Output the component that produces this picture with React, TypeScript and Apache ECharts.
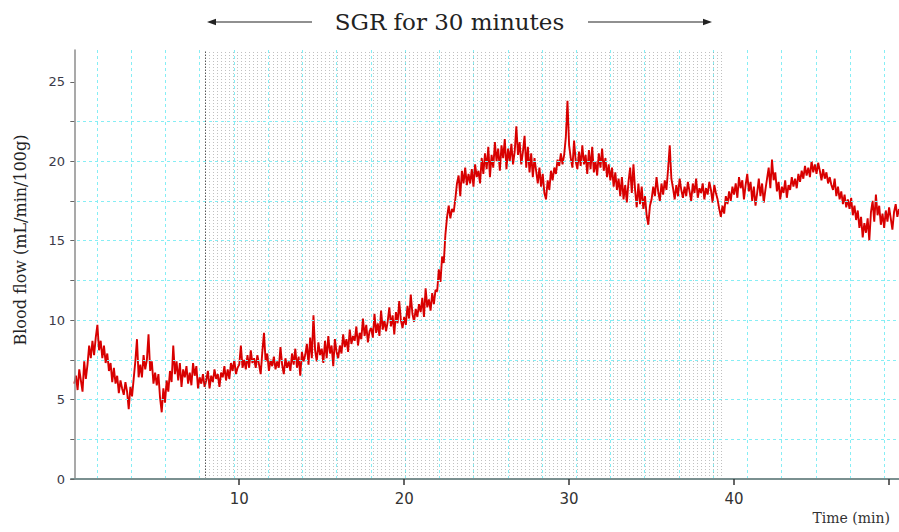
import React, { useEffect, useRef } from "react";
import * as echarts from "echarts";

// Sampling step of the blood-flow trace (minutes)
const TIME_STEP = 0.1;

// Blood flow (mL/min/100g), every 0.1 min, 0..50 min
const flow: number[] = [
  // 0
  6.0, 6.5, 5.6, 6.9, 6.2, 5.5, 7.4, 6.3, 7.2, 8.4,
  // 1
  7.6, 8.7, 7.8, 8.9, 9.7, 8.1, 8.7, 7.6, 8.4, 7.3,
  // 2
  7.9, 6.8, 7.3, 6.1, 7.0, 6.0, 6.5, 5.4, 6.2, 5.7,
  // 3
  5.3, 6.1, 5.5, 4.4, 5.8, 5.2, 6.3, 7.4, 8.8, 6.4,
  // 4
  7.2, 6.4, 7.8, 6.9, 7.5, 9.1, 6.8, 7.4, 6.0, 6.7,
  // 5
  5.9, 6.6, 5.1, 4.2, 5.7, 4.8, 6.2, 5.5, 6.8, 6.1,
  // 6
  8.4, 6.6, 7.4, 6.2, 7.3, 5.8, 6.9, 6.4, 7.1, 6.0,
  // 7
  6.7, 5.9, 7.3, 6.5, 7.1, 5.7, 6.4, 6.0, 6.6, 5.8,
  // 8
  6.2, 6.8, 5.7, 6.5, 6.1, 6.9, 6.3, 6.6, 5.8, 6.7,
  // 9
  6.4, 7.1, 6.2, 6.9, 6.3, 7.3, 6.8, 7.5, 6.6, 7.0,
  // 10
  7.2, 8.4, 7.0, 7.5, 6.9, 7.8, 7.0, 8.1, 7.3, 7.6,
  // 11
  7.0, 7.8, 7.2, 6.6, 8.0, 9.2, 7.4, 7.9, 6.8, 7.5,
  // 12
  7.1, 7.7, 6.9, 7.4, 7.0, 8.3, 7.2, 6.6, 7.6, 7.0,
  // 13
  7.4, 6.8, 7.9, 7.2, 8.2, 7.0, 7.7, 6.5, 8.0, 7.4,
  // 14
  7.8, 8.5, 7.2, 8.9, 7.6, 10.3, 8.1, 7.4, 8.6, 7.8,
  // 15
  8.2, 7.3, 8.7, 7.6, 9.0, 7.9, 8.4, 7.1, 8.8, 8.0,
  // 16
  7.6, 8.4, 7.9, 9.1, 8.3, 8.8, 8.0, 9.4, 8.5, 9.0,
  // 17
  8.7, 9.6, 8.4, 9.2, 8.8, 10.1, 9.0, 9.7, 8.6, 9.3,
  // 18
  9.5, 8.9, 10.4, 9.2, 9.8, 9.0, 10.6, 9.4, 10.0, 9.3,
  // 19
  9.9, 10.8, 9.6, 10.3, 9.1, 10.5, 9.8, 11.2, 10.0, 9.5,
  // 20
  10.2, 9.7, 10.9, 10.1, 11.6, 10.4, 9.9, 10.7, 10.2, 11.0,
  // 21
  10.5, 11.4, 10.2, 12.0, 10.8, 11.3, 10.6, 11.7, 11.0, 11.9,
  // 22
  11.8, 13.2, 12.4, 14.0, 13.6, 15.4, 16.5, 17.2, 16.4, 17.0,
  // 23
  16.8, 17.6, 18.6, 19.1, 17.8, 19.4, 18.6, 19.6, 18.5, 19.2,
  // 24
  18.6, 19.5, 18.4, 19.8, 19.0, 19.4, 18.6, 20.2, 19.2, 20.5,
  // 25
  19.5, 20.9, 19.0, 20.4, 19.6, 21.2, 20.0, 20.8, 19.4, 21.0,
  // 26
  20.2, 21.4, 19.5, 20.8, 20.0, 21.1, 19.8, 20.6, 22.2, 20.4,
  // 27
  21.2, 19.8, 20.6, 21.6, 19.6, 20.9, 19.3, 20.5, 19.0, 20.2,
  // 28
  19.4, 18.6, 19.6, 18.4, 19.2, 18.0, 17.6, 18.8, 18.2, 19.4,
  // 29
  18.8, 19.6, 19.2, 20.1, 19.7, 20.5, 19.8, 20.4, 21.5, 23.8,
  // 30
  21.0, 20.2, 19.6, 21.3, 20.0, 19.5, 20.6, 19.7, 21.0, 19.8,
  // 31
  20.4, 19.2, 20.7, 19.5, 20.9, 19.3, 20.0, 19.1, 20.5, 19.6,
  // 32
  20.8, 19.4, 20.2, 19.0, 19.8, 18.8, 19.6, 18.4, 19.3, 18.2,
  // 33
  18.9, 17.8, 19.0, 17.6, 18.5, 17.4, 18.7, 19.6, 18.0, 19.8,
  // 34
  18.2, 17.1, 18.6, 17.3, 18.4, 17.0, 17.8, 16.6, 16.0, 17.2,
  // 35
  17.6, 18.4, 17.8, 19.0, 18.1, 17.5, 18.6, 17.9, 18.8, 18.2,
  // 36
  19.5, 21.0, 18.9, 18.3, 17.6, 18.5, 17.8, 18.9, 18.2, 17.7,
  // 37
  18.4, 17.8, 18.7, 18.1, 17.5, 18.6, 18.0, 18.9, 17.7, 18.3,
  // 38
  18.0, 18.6, 17.6, 18.3, 17.9, 18.7, 18.2, 17.4, 18.5, 18.0,
  // 39
  17.6, 17.0, 16.5, 17.2, 16.7, 17.8, 17.3, 18.1, 17.5, 18.4,
  // 40
  17.9, 18.6, 17.7, 19.0, 18.3, 18.8, 17.6, 18.5, 19.2, 18.1,
  // 41
  18.7, 17.5, 18.4, 17.2, 18.0, 18.9, 17.8, 18.6, 17.4, 18.2,
  // 42
  18.9, 19.6, 18.3, 20.1, 18.8, 19.3, 18.1, 18.7, 17.6, 18.4,
  // 43
  18.0, 18.8, 17.7, 18.5, 18.2, 19.0, 18.4, 18.9, 18.3, 19.2,
  // 44
  18.7, 19.4, 18.9, 19.7, 19.1, 19.6, 19.0, 20.0, 19.3, 19.8,
  // 45
  19.2, 19.9, 19.4, 18.8, 19.5, 18.9, 19.3, 18.6, 19.0, 18.5,
  // 46
  18.2, 18.9, 17.8, 18.4, 17.6, 18.1, 17.3, 17.9, 17.1, 17.6,
  // 47
  17.0, 17.7, 16.6, 17.2, 16.3, 16.9, 15.8, 16.5, 15.2, 16.1,
  // 48
  15.5, 16.4, 15.0, 16.8, 17.5, 16.2, 17.9, 16.6, 17.2, 16.0,
  // 49
  16.7, 15.8, 16.9, 16.2, 17.1, 16.4, 15.7, 16.8, 17.3, 16.5,
  // 50
  17.0,
];

const X_TICKS = [10, 20, 30, 40, 49.4];
const X_LABELS = [10, 20, 30, 40];
const Y_TICKS = [0, 2.5, 5, 7.5, 10, 12.5, 15, 17.5, 20, 22.5, 25];
const Y_LABELS = [0, 5, 10, 15, 20, 25];

const SGR_START = 7.93;
const SGR_END = 39.3;

const TITLE = "SGR for 30 minutes";
const Y_NAME = "Blood flow (mL/min/100g)";
const X_NAME = "Time (min)";

function makeDotPattern(): HTMLCanvasElement {
  const c = document.createElement("canvas");
  c.width = 4;
  c.height = 3;
  const ctx = c.getContext("2d")!;
  ctx.clearRect(0, 0, 4, 3);
  ctx.fillStyle = "rgba(130,130,130,0.5)";
  ctx.fillRect(1, 1, 1, 1);
  return c;
}

export default function App() {
  const ref = useRef<HTMLDivElement>(null);

  useEffect(() => {
    document.body.style.margin = "0";
    if (!ref.current) return;
    const chart = echarts.init(ref.current, undefined, { renderer: "svg" });

    const seriesData = flow.map((v, i) => [+(i * TIME_STEP).toFixed(1), v]);
    const pattern = makeDotPattern();

    const cyan = "#86eef5";
    const serif = "DejaVu Serif";

    chart.setOption({
      animation: false,
      backgroundColor: "#ffffff",
      title: {
        text: TITLE,
        left: "center",
        top: 5,
        textStyle: {
          fontFamily: serif,
          fontSize: 23,
          fontWeight: "normal",
          color: "#222",
        },
      },
      grid: [
        { left: 71, right: 0, top: 50, bottom: 53 },
        { left: 62.8, right: 0, top: 50, bottom: 53 },
      ],
      xAxis: [
        {
          type: "value",
          gridIndex: 0,
          min: -0.2,
          max: 50,
          axisLine: { show: true, lineStyle: { color: "#7a9090", width: 2 } },
          axisTick: {
            show: true,
            customValues: X_TICKS,
            length: 6,
            lineStyle: { color: "#333", width: 1.5 },
          },
          axisLabel: {
            customValues: X_LABELS,
            margin: 12,
            fontFamily: "DejaVu Sans",
            fontSize: 15,
            color: "#333",
          },
          splitLine: { show: false },
          z: 5,
        },
        {
          type: "value",
          gridIndex: 1,
          min: 0,
          max: 24.43,
          interval: 1,
          axisLine: { show: false },
          axisTick: { show: false },
          axisLabel: { show: false },
          splitLine: {
            show: true,
            showMinLine: false,
            showMaxLine: false,
            lineStyle: { color: cyan, type: [3, 3], width: 1 },
          },
        },
      ],
      yAxis: [
        {
          type: "value",
          gridIndex: 0,
          min: 0,
          max: 27,
          interval: 2.5,
          axisLine: { show: true, lineStyle: { color: "#8c8c8c", width: 1.5 } },
          axisTick: {
            show: true,
            customValues: Y_TICKS,
            length: 4,
            lineStyle: { color: "#666" },
          },
          axisLabel: {
            customValues: Y_LABELS,
            margin: 6,
            fontFamily: "DejaVu Sans",
            fontSize: 13,
            color: "#3a3a48",
          },
          splitLine: {
            show: true,
            showMaxLine: false,
            lineStyle: { color: cyan, type: [3, 3], width: 1 },
          },
          z: 5,
        },
        {
          type: "value",
          gridIndex: 1,
          min: 0,
          max: 27,
          show: false,
          splitLine: { show: false },
        },
      ],
      series: [
        {
          type: "line",
          xAxisIndex: 0,
          yAxisIndex: 0,
          data: seriesData,
          showSymbol: false,
          symbol: "none",
          lineStyle: { color: "#d80000", width: 1.9 },
          z: 3,
          markArea: {
            silent: true,
            itemStyle: {
              color: {
                image: pattern,
                repeat: "repeat",
                imageWidth: 4,
                imageHeight: 3,
              } as any,
            },
            data: [[{ xAxis: SGR_START }, { xAxis: SGR_END }]],
          },
          markLine: {
            silent: true,
            symbol: "none",
            label: { show: false },
            lineStyle: { color: "#555", type: [1.5, 1.5], width: 1 },
            data: [{ xAxis: SGR_START }],
          },
        },
      ],
      graphic: [
        // left arrow
        {
          type: "line",
          shape: { x1: 214, y1: 22, x2: 312, y2: 22 },
          style: { stroke: "#222", lineWidth: 1.2 },
        },
        {
          type: "polygon",
          shape: { points: [[207, 22], [216, 18.8], [216, 25.2]] },
          style: { fill: "#222" },
        },
        // right arrow
        {
          type: "line",
          shape: { x1: 588, y1: 22, x2: 705, y2: 22 },
          style: { stroke: "#222", lineWidth: 1.2 },
        },
        {
          type: "polygon",
          shape: { points: [[712, 22], [703, 18.8], [703, 25.2]] },
          style: { fill: "#222" },
        },
        {
          type: "text",
          x: 20,
          y: 240,
          rotation: Math.PI / 2,
          style: {
            text: Y_NAME,
            fontFamily: serif,
            fontSize: 16,
            fill: "#222",
            align: "center",
            verticalAlign: "middle",
          },
        },
        {
          type: "text",
          x: 890,
          y: 518,
          style: {
            text: X_NAME,
            fontFamily: serif,
            fontSize: 14,
            fill: "#333",
            align: "right",
            verticalAlign: "middle",
          },
        },
      ],
    });

    return () => {
      chart.dispose();
    };
  }, []);

  return <div ref={ref} style={{ width: 899, height: 532 }} />;
}
